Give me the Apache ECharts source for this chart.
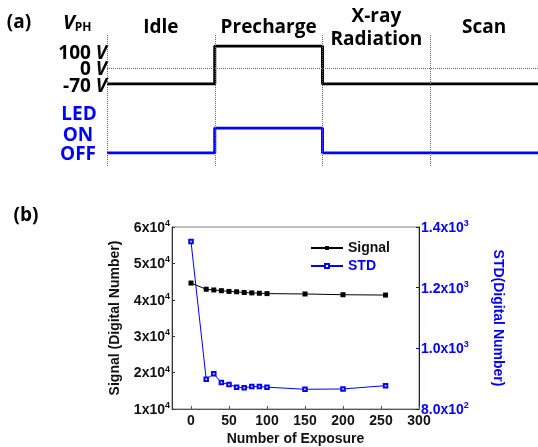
<!DOCTYPE html>
<html>
<head>
<meta charset="utf-8">
<script src="https://cdn.jsdelivr.net/npm/echarts@6/dist/echarts.min.js"></script>
<style>
  html, body { margin: 0; padding: 0; background: #fff; }
  #chart-container { width: 538px; height: 447px; }
</style>
</head>
<body>
<div id="chart-container"></div>
<script>
// (a) timing diagram
const phaseNames = ['Idle', 'Precharge', 'X-ray\nRadiation', 'Scan'];
const phaseCenters = [0.5, 1.5, 2.5, 3.5];
const phaseEdges = [0, 1, 2, 3];
const vphTime = [0, 1, 2, 4];
const vphLevel = [-70, 100, -70, -70];
const ledTime = [0, 1, 2, 4];
const ledLevel = [0, 1, 0, 0];

// (b) signal / std vs number of exposure
const exposure = [0, 20, 30, 40, 50, 60, 70, 80, 90, 100, 150, 200, 256];
const signal = [44600, 42900, 42700, 42500, 42300, 42200, 42000, 41900, 41800, 41700, 41600, 41400, 41300];
const stdDev = [1352, 898, 916, 887, 881, 872, 870, 874, 874, 872, 865, 866, 877];
const xTicks = [0, 50, 100, 150, 200, 250, 300];

const BLUE = '#0000ff';
const TOPFONT = 'Open Sans';
const BOTFONT = 'Liberation Sans';

document.addEventListener('DOMContentLoaded', () => {
    const chart = echarts.init(document.getElementById('chart-container'));

    const zip = (xs, ys) => xs.map((x, i) => [x, ys[i]]);

    // 上标标签 (例如 6x10^4)
    const supRich = color => ({
        b: { fontFamily: BOTFONT, fontWeight: 'bold', fontSize: 14, color: color, lineHeight: 16, verticalAlign: 'bottom' },
        s: { fontFamily: BOTFONT, fontWeight: 'bold', fontSize: 9, color: color, lineHeight: 16, verticalAlign: 'top', padding: [0, 0, 7, 0] },
    });

    const topText = (text, x, y, opts) => ({
        type: 'text',
        x: x,
        y: y,
        style: Object.assign({
            text: text,
            fill: '#000',
            font: 'bold 19px "' + TOPFONT + '"',
            align: 'center',
            verticalAlign: 'middle',
        }, opts || {}),
    });

    const levelRich = {
        n: { font: 'bold 19px "' + TOPFONT + '"', fill: '#000' },
        v: { font: 'italic bold 19px "' + TOPFONT + '"', fill: '#000' },
    };

    const option = {
        backgroundColor: '#fff',
        animation: false,
        grid: [
            // 0: plot (b)
            { left: 172, right: 119, top: 227, bottom: 38, show: true, borderColor: '#808080', borderWidth: 1, outerBoundsMode: 'none' },
            // 1: V_PH
            { left: 107, right: 0, top: 46, height: 38, outerBoundsMode: 'none' },
            // 2: LED
            { left: 107, right: 0, top: 128, height: 25, outerBoundsMode: 'none' },
            // 3: phase dividers
            { left: 107, right: 0, top: 35, height: 131, outerBoundsMode: 'none' },
        ],
        xAxis: [
            {
                gridIndex: 0,
                type: 'value',
                min: -25,
                max: 300,
                name: 'Number of Exposure',
                nameLocation: 'middle',
                nameGap: 23,
                nameTextStyle: { fontFamily: BOTFONT, fontWeight: 'bold', fontSize: 14, color: '#111' },
                axisLine: { onZero: false, lineStyle: { color: '#555', width: 1 } },
                axisTick: { inside: true, length: 3, customValues: xTicks, lineStyle: { color: '#555' } },
                axisLabel: { customValues: xTicks, margin: 5, fontFamily: BOTFONT, fontWeight: 'bold', fontSize: 14, color: '#111' },
                splitLine: { show: false },
            },
            { gridIndex: 1, type: 'value', min: 0, max: 4, show: false },
            { gridIndex: 2, type: 'value', min: 0, max: 4, show: false },
            {
                gridIndex: 3,
                type: 'value',
                min: 0,
                max: 4,
                position: 'top',
                axisLine: { show: false },
                axisTick: { show: false },
                splitLine: { show: false },
                axisLabel: {
                    customValues: phaseCenters,
                    formatter: v => phaseNames[phaseCenters.indexOf(v)],
                    margin: 7,
                    verticalAlign: 'middle',
                    lineHeight: 23,
                    fontFamily: TOPFONT,
                    fontWeight: 'bold',
                    fontSize: 19,
                    color: '#000',
                },
            },
        ],
        yAxis: [
            {
                gridIndex: 0,
                type: 'value',
                min: 10000,
                max: 60000,
                interval: 10000,
                name: 'Signal (Digital Number)',
                nameLocation: 'middle',
                nameGap: 50,
                nameTextStyle: { fontFamily: BOTFONT, fontWeight: 'bold', fontSize: 14, color: '#111' },
                axisLine: { show: true, onZero: false, lineStyle: { color: '#333', width: 1 } },
                axisTick: { inside: true, length: 3, lineStyle: { color: '#333' } },
                axisLabel: {
                    margin: 2,
                    formatter: v => '{b|' + (v / 10000) + 'x10}{s|4}',
                    rich: supRich('#111'),
                },
                splitLine: { show: false },
            },
            {
                gridIndex: 0,
                type: 'value',
                position: 'right',
                min: 800,
                max: 1400,
                interval: 200,
                name: 'STD(Digital Number)',
                nameLocation: 'middle',
                nameRotate: -90,
                nameGap: 72,
                nameTextStyle: { fontFamily: BOTFONT, fontWeight: 'bold', fontSize: 14, color: BLUE },
                axisLine: { show: true, onZero: false, lineStyle: { color: BLUE, width: 1 } },
                axisTick: { inside: true, length: 3, lineStyle: { color: BLUE } },
                axisLabel: {
                    margin: 2,
                    formatter: v => v < 1000
                        ? '{b|' + (v / 100).toFixed(1) + 'x10}{s|2}'
                        : '{b|' + (v / 1000).toFixed(1) + 'x10}{s|3}',
                    rich: supRich(BLUE),
                },
                splitLine: { show: false },
            },
            { gridIndex: 1, type: 'value', min: -70, max: 100, show: false },
            { gridIndex: 2, type: 'value', min: 0, max: 1, show: false },
            { gridIndex: 3, type: 'value', min: 0, max: 1, show: false },
        ],
        legend: {
            orient: 'vertical',
            left: 305,
            top: 236,
            itemWidth: 32,
            itemHeight: 5,
            itemGap: 4,
            textStyle: { fontFamily: BOTFONT, fontWeight: 'bold', fontSize: 14, color: '#111' },
            data: [
                { name: 'Signal' },
                { name: 'STD', textStyle: { color: BLUE } },
            ],
        },
        series: [
            {
                name: 'Signal',
                type: 'line',
                xAxisIndex: 0,
                yAxisIndex: 0,
                data: zip(exposure, signal),
                symbol: 'rect',
                symbolSize: 5,
                itemStyle: { color: '#000' },
                lineStyle: { color: '#000', width: 1 },
            },
            {
                name: 'STD',
                type: 'line',
                xAxisIndex: 0,
                yAxisIndex: 1,
                data: zip(exposure, stdDev),
                symbol: 'emptyRect',
                symbolSize: 3.5,
                itemStyle: { color: BLUE, borderWidth: 1 },
                lineStyle: { color: BLUE, width: 1 },
            },
            {
                name: 'VPH',
                type: 'line',
                xAxisIndex: 1,
                yAxisIndex: 2,
                step: 'end',
                data: zip(vphTime, vphLevel),
                showSymbol: false,
                lineStyle: { color: '#000', width: 3 },
                markLine: {
                    silent: true,
                    symbol: 'none',
                    label: { show: false },
                    lineStyle: { color: '#666', type: [1, 1], width: 1 },
                    data: [{ yAxis: 0 }],
                },
            },
            {
                name: 'LED',
                type: 'line',
                xAxisIndex: 2,
                yAxisIndex: 3,
                step: 'end',
                data: zip(ledTime, ledLevel),
                showSymbol: false,
                lineStyle: { color: BLUE, width: 3 },
            },
            {
                name: 'phase',
                type: 'line',
                xAxisIndex: 3,
                yAxisIndex: 4,
                data: [[0, 0], [4, 0]],
                showSymbol: false,
                lineStyle: { opacity: 0 },
                z: 1,
                markLine: {
                    silent: true,
                    symbol: 'none',
                    label: { show: false },
                    lineStyle: { color: '#666', type: [1, 1], width: 1 },
                    data: phaseEdges.map(t => ({ xAxis: t })),
                },
            },
        ],
        graphic: [
            topText('(a)', 19, 23),
            topText('(b)', 26, 216),
            {
                type: 'text',
                x: 63,
                y: 23,
                style: {
                    text: '{v|V}{s|PH}',
                    verticalAlign: 'middle',
                    rich: {
                        v: { font: 'italic bold 20px "' + TOPFONT + '"', fill: '#000', lineHeight: 22, verticalAlign: 'middle' },
                        s: { font: 'bold 12px "' + TOPFONT + '"', fill: '#000', lineHeight: 22, verticalAlign: 'bottom' },
                    },
                },
            },
            topText('{n|100 }{v|V}', 107, 54, { align: 'right', rich: levelRich }),
            topText('{n|0 }{v|V}', 107, 70, { align: 'right', rich: levelRich }),
            topText('{n|-70 }{v|V}', 107, 87, { align: 'right', rich: levelRich }),
            topText('LED', 79, 115, { fill: BLUE }),
            topText('ON', 78, 136, { fill: BLUE }),
            topText('OFF', 78, 155, { fill: BLUE }),
        ],
    };

    chart.setOption(option);
});
</script>
</body>
</html>
